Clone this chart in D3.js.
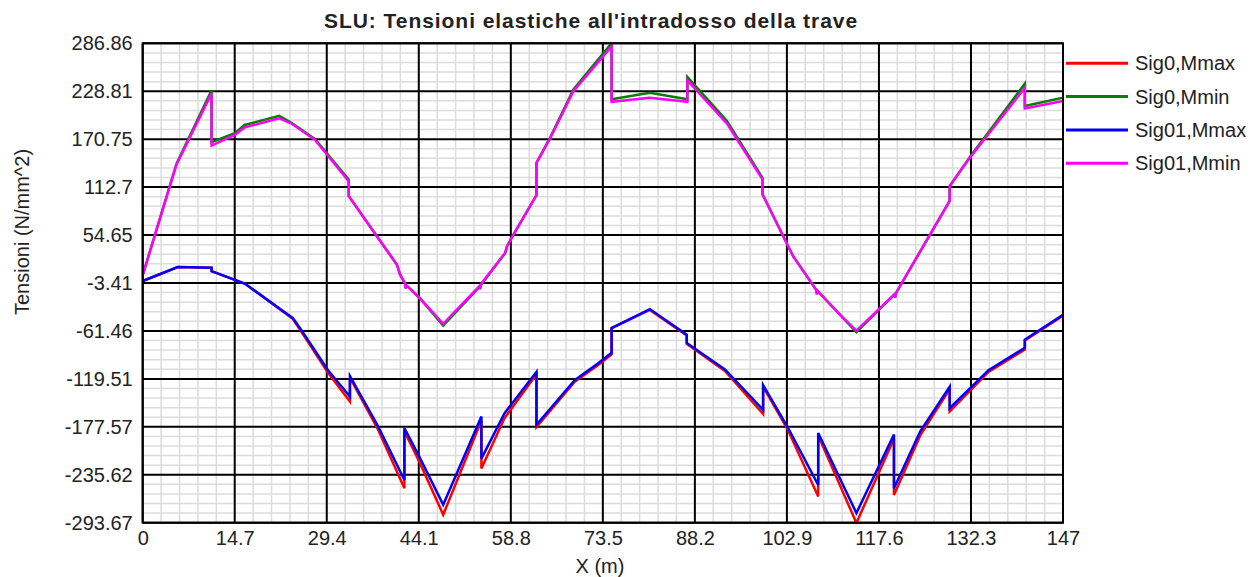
<!DOCTYPE html>
<html>
<head>
<meta charset="utf-8">
<script src="https://cdn.jsdelivr.net/npm/d3@7"></script>
<style>
  body { margin: 0; background: #fff; }
  svg { font-family: "Liberation Sans", Arial, sans-serif; }
</style>
</head>
<body>
<svg id="chart" width="1250" height="577"></svg>
<script>
// stazioni (m) per le curve superiori (Mmin)
const xTop = [0, 5.4, 11.0, 11.0, 14.7, 16.3, 21.8, 23.7, 27.5, 32.9, 32.9, 37.6, 40.6, 41.1, 41.9, 42.0, 42.1,
  44.3, 48.0, 53.8, 53.9, 54.0, 57.9, 58.2, 58.9, 62.9, 62.9, 65.1, 68.8, 74.9, 74.9, 81.0, 87.0, 87.0,
  93.3, 99.0, 99.0, 103.9, 107.6, 107.7, 107.8, 111.4, 114.0, 120.1, 120.2, 120.3, 124.2, 128.9, 128.9,
  132.1, 140.9, 140.9, 147];
const sig0Mmin = [6, 141, 230, 167, 178, 188, 199, 191, 171, 122, 102, 51, 19, 7, -4, -10, -6,
  -22, -55, -8, -11, -6, 33, 41, 51, 103, 142, 173, 231, 287, 219, 227, 219, 246,
  193, 124, 104, 29, -12, -17, -13, -42, -63, -17, -21, -16, 35, 96, 114,
  149, 238, 211, 221];
const sig01Mmin = [6, 140, 226, 163, 176, 185, 196, 190, 170, 120, 102, 51, 19, 7, -4, -10, -6,
  -22, -53, -7, -10, -5, 33, 41, 51, 103, 142, 172, 229, 283, 216, 221, 216, 242,
  190, 122, 104, 29, -12, -17, -13, -42, -61, -17, -21, -16, 35, 96, 114,
  148, 233, 208, 217];

// stazioni (m) per le curve inferiori (Mmax)
const xBot = [0, 5.6, 11.0, 11.0, 16.3, 24.0, 25.3, 29.6, 33.1, 33.1, 37.6, 41.8, 41.8, 44.2, 48.0,
  54.1, 54.1, 57.8, 62.9, 62.9, 69.0, 72.7, 74.9, 74.9, 81.0, 86.9, 86.9, 93.0, 99.1, 99.1, 103.1,
  107.9, 107.9, 114.0, 120.0, 120.0, 124.2, 128.9, 128.9, 135.1, 140.9, 140.9, 147];
const sig0Mmax = [-1, 16, 15, 11, -4, -47, -62, -112, -147, -118, -181, -252, -183, -220, -284,
  -170, -228, -167, -114, -178, -123, -103, -90, -58, -36, -67, -77, -110, -162, -129, -182,
  -262, -188, -294, -192, -260, -188, -132, -159, -111, -84, -73, -43];
const sig01Mmax = [-1, 16, 15, 11, -4, -46, -60, -109, -141, -116, -177, -242, -179, -214, -272,
  -165, -216, -161, -111, -175, -121, -101, -88, -58, -35, -66, -76, -108, -157, -127, -179,
  -248, -185, -282, -187, -252, -183, -129, -155, -109, -82, -72, -42];

const xTicks = [0, 14.7, 29.4, 44.1, 58.8, 73.5, 88.2, 102.9, 117.6, 132.3, 147];
const yTicks = [-293.67, -235.62, -177.57, -119.51, -61.46, -3.41, 54.65, 112.7, 170.75, 228.81, 286.86];

const seriesNames = ["Sig0,Mmax", "Sig0,Mmin", "Sig01,Mmax", "Sig01,Mmin"];
const seriesColors = ["#ff0000", "#008000", "#0000ff", "#ff00ff"];

const svg = d3.select("#chart");
const pL = 142.7, pR = 1063, pT = 43.3, pB = 522.7;

const x = d3.scaleLinear().domain([0, 147]).range([pL, pR]);
const y = d3.scaleLinear().domain([-293.67, 286.86]).range([pB, pT]);

// griglia secondaria: 5 suddivisioni per intervallo
const minorX = [], minorY = [];
for (let i = 0; i < xTicks.length - 1; i++)
  for (let k = 1; k < 5; k++) minorX.push(xTicks[i] + (xTicks[i + 1] - xTicks[i]) * k / 5);
for (let i = 0; i < yTicks.length - 1; i++)
  for (let k = 1; k < 5; k++) minorY.push(yTicks[i] + (yTicks[i + 1] - yTicks[i]) * k / 5);

const grid = svg.append("g");
grid.selectAll(".mx").data(minorX).enter().append("line")
  .attr("x1", d => x(d)).attr("x2", d => x(d)).attr("y1", pT).attr("y2", pB)
  .attr("stroke", "#dcdcdc").attr("stroke-width", 1.5);
grid.selectAll(".my").data(minorY).enter().append("line")
  .attr("x1", pL).attr("x2", pR).attr("y1", d => y(d)).attr("y2", d => y(d))
  .attr("stroke", "#dcdcdc").attr("stroke-width", 1.5);
grid.selectAll(".gx").data(xTicks).enter().append("line")
  .attr("x1", d => x(d)).attr("x2", d => x(d)).attr("y1", pT).attr("y2", pB)
  .attr("stroke", "#000").attr("stroke-width", 2);
grid.selectAll(".gy").data(yTicks).enter().append("line")
  .attr("x1", pL).attr("x2", pR).attr("y1", d => y(d)).attr("y2", d => y(d))
  .attr("stroke", "#000").attr("stroke-width", 2);

// assi
const xAxis = svg.append("g").attr("transform", `translate(0,${pB})`)
  .call(d3.axisBottom(x).tickValues(xTicks).tickSize(0).tickPadding(8).tickFormat(d => String(d)));
const yAxis = svg.append("g").attr("transform", `translate(${pL},0)`)
  .call(d3.axisLeft(y).tickValues(yTicks).tickSize(0).tickPadding(10).tickFormat(d => String(d)));
[xAxis, yAxis].forEach(a => {
  a.select(".domain").remove();
  a.selectAll("text").attr("font-size", 20).attr("fill", "#222")
    .attr("font-family", "Liberation Sans, Arial, sans-serif");
});

// curve
svg.append("clipPath").attr("id", "clip").append("rect")
  .attr("x", pL).attr("y", pT - 1).attr("width", pR - pL).attr("height", pB - pT + 2);

const series = [
  { xs: xBot, ys: sig0Mmax },
  { xs: xTop, ys: sig0Mmin },
  { xs: xBot, ys: sig01Mmax },
  { xs: xTop, ys: sig01Mmin }
];
const line = d3.line().x(d => x(d[0])).y(d => y(d[1]));
const curves = svg.append("g").attr("clip-path", "url(#clip)");
series.forEach((s, i) => {
  curves.append("path")
    .datum(s.xs.map((v, j) => [v, s.ys[j]]))
    .attr("d", line)
    .attr("fill", "none")
    .attr("stroke", seriesColors[i])
    .attr("stroke-width", 2.5)
    .attr("stroke-linejoin", "miter");
});

// bordo
svg.append("rect").attr("x", pL).attr("y", pT).attr("width", pR - pL).attr("height", pB - pT)
  .attr("fill", "none").attr("stroke", "#000").attr("stroke-width", 2);

// titolo ed etichette
svg.append("text").attr("x", 591).attr("y", 28).attr("text-anchor", "middle")
  .attr("font-size", 21).attr("font-weight", "bold").attr("letter-spacing", 0.95).attr("fill", "#222")
  .text("SLU: Tensioni elastiche all'intradosso della trave");
svg.append("text").attr("x", 600).attr("y", 573).attr("text-anchor", "middle")
  .attr("font-size", 20).attr("fill", "#222").text("X (m)");
svg.append("text").attr("transform", "translate(29,232) rotate(-90)").attr("text-anchor", "middle")
  .attr("font-size", 20).attr("fill", "#222").text("Tensioni (N/mm^2)");

// legenda
const legend = svg.append("g").selectAll("g").data(seriesNames).enter().append("g")
  .attr("transform", (d, i) => `translate(1066,${63.3 + i * 33.3})`);
legend.append("line").attr("x1", 0).attr("x2", 62).attr("y1", 0).attr("y2", 0)
  .attr("stroke", (d, i) => seriesColors[i]).attr("stroke-width", 3);
legend.append("text").attr("x", 69).attr("dy", "0.35em").attr("font-size", 20).attr("fill", "#222")
  .text(d => d);
</script>
</body>
</html>
